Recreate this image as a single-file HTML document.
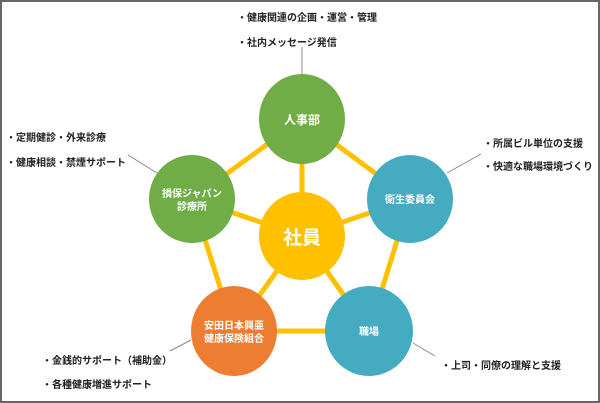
<!DOCTYPE html>
<html><head><meta charset="utf-8"><style>
html,body{margin:0;padding:0;background:#fff;}
svg{display:block;}
text{font-family:"Liberation Sans","Noto Sans CJK JP",sans-serif;}
.t{font-size:10px;fill:#222;font-weight:bold;}
.w{fill:#fff;font-weight:bold;text-anchor:middle;}
</style></head><body>
<svg width="600" height="403" viewBox="0 0 600 403">
<rect x="1" y="1" width="598" height="401" fill="#fff" stroke="#666" stroke-width="2"/>
<g stroke="#FFC000" stroke-width="5">
<line x1="302" y1="119" x2="410" y2="199"/>
<line x1="410" y1="199" x2="369" y2="331"/>
<line x1="369" y1="331" x2="234" y2="331"/>
<line x1="234" y1="331" x2="192" y2="199"/>
<line x1="192" y1="199" x2="302" y2="119"/>
<line x1="302" y1="236" x2="302" y2="119"/>
<line x1="302" y1="236" x2="410" y2="199"/>
<line x1="302" y1="236" x2="369" y2="331"/>
<line x1="302" y1="236" x2="234" y2="331"/>
<line x1="302" y1="236" x2="192" y2="199"/>
</g>
<g stroke="#888" stroke-width="1">
<line x1="302" y1="47" x2="302" y2="74"/>
<line x1="128" y1="155" x2="157" y2="173"/>
<line x1="481" y1="154" x2="447" y2="173"/>
<line x1="170" y1="351" x2="191" y2="340"/>
<line x1="413" y1="343" x2="435" y2="356"/>
</g>
<ellipse cx="302" cy="119" rx="43" ry="45" fill="#70AD47"/>
<ellipse cx="192" cy="199" rx="43" ry="44" fill="#70AD47"/>
<ellipse cx="410" cy="199" rx="43" ry="44" fill="#45ABC0"/>
<ellipse cx="302" cy="236" rx="43" ry="44" fill="#FFC000"/>
<ellipse cx="234" cy="331" rx="43" ry="45" fill="#ED7D31"/>
<ellipse cx="369" cy="331" rx="44" ry="45" fill="#45ABC0"/>
<text class="w" x="302" y="124" font-size="12">人事部</text>
<text class="w" x="192" y="197" font-size="10">損保ジャパン</text>
<text class="w" x="192" y="210" font-size="10">診療所</text>
<text class="w" x="410" y="203" font-size="10">衛生委員会</text>
<text class="w" x="302" y="244" font-size="19">社員</text>
<text class="w" x="234" y="329" font-size="10">安田日本興亜</text>
<text class="w" x="234" y="342" font-size="10">健康保険組合</text>
<text class="w" x="369" y="335" font-size="10">職場</text>
<text class="t" x="237" y="21">・健康関連の企画・運営・管理</text>
<text class="t" x="237" y="46">・社内メッセージ発信</text>
<text class="t" x="6" y="141">・定期健診・外来診療</text>
<text class="t" x="6" y="166">・健康相談・禁煙サポート</text>
<text class="t" x="483" y="147">・所属ビル単位の支援</text>
<text class="t" x="483" y="170">・快適な職場環境づくり</text>
<text class="t" x="42" y="364">・金銭的サポート（補助金）</text>
<text class="t" x="42" y="388">・各種健康増進サポート</text>
<text class="t" x="441" y="369">・上司・同僚の理解と支援</text>
</svg>
</body></html>
